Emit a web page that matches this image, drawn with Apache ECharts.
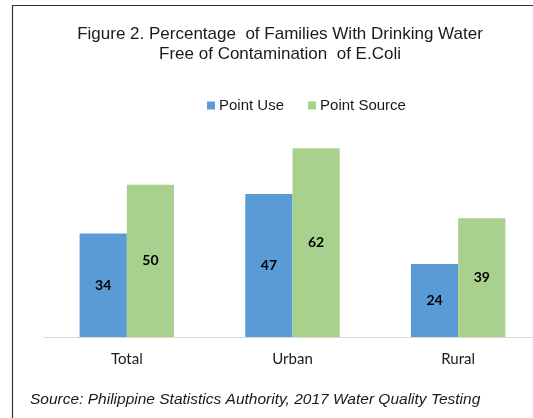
<!DOCTYPE html>
<html>
<head>
<meta charset="utf-8">
<script src="https://cdn.jsdelivr.net/npm/echarts@6/dist/echarts.min.js"></script>
<style>
  html, body { margin: 0; padding: 0; background: #fff; }
  #chart { width: 533px; height: 418px; }
</style>
</head>
<body>
<div id="chart"></div>
<script>
// Datos del gráfico
const categories = ['Total', 'Urban', 'Rural'];
const pointUse = [34, 47, 24];
const pointSource = [50, 62, 39];

const chart = echarts.init(document.getElementById('chart'));

const labelStyle = {
  show: true,
  position: 'inside',
  color: '#000',
  fontWeight: 'bold',
  fontSize: 14,
  fontFamily: 'Lato'
};

const option = {
  animation: false,
  title: [
    {
      text: 'Figure 2. Percentage  of Families With Drinking Water\nFree of Contamination  of E.Coli',
      left: 275,
      top: 19,
      textAlign: 'center',
      textStyle: {
        fontFamily: 'Liberation Sans',
        fontWeight: 'normal',
        fontSize: 17,
        lineHeight: 20,
        color: '#1a1a1a'
      }
    },
    {
      text: 'Source: Philippine Statistics Authority, 2017 Water Quality Testing',
      left: 25,
      top: 387,
      textStyle: {
        fontFamily: 'Liberation Sans',
        fontStyle: 'italic',
        fontWeight: 'normal',
        fontSize: 15.5,
        color: '#1a1a1a'
      }
    }
  ],
  legend: {
    left: 202,
    top: 93,
    itemWidth: 8,
    itemHeight: 8,
    itemGap: 24,
    icon: 'rect',
    textStyle: {
      fontFamily: 'Liberation Sans',
      fontSize: 15,
      color: '#1a1a1a',
      padding: [0, 0, 0, -1]
    },
    data: ['Point Use', 'Point Source']
  },
  graphic: [
    {
      type: 'rect',
      shape: { x: 12.5, y: 5.5, width: 600, height: 500 },
      style: { fill: 'none', stroke: '#333', lineWidth: 1.2 },
      silent: true
    }
  ],
  grid: {
    left: 44,
    top: 124,
    width: 497,
    bottom: 81,
    outerBoundsMode: 'none'
  },
  xAxis: {
    type: 'category',
    data: categories,
    axisLine: { lineStyle: { color: '#d9d9d9', width: 1 } },
    axisTick: { show: false },
    axisLabel: {
      margin: 15,
      fontFamily: 'Lato',
      fontSize: 15,
      color: '#1a1a1a'
    }
  },
  yAxis: {
    type: 'value',
    min: 0,
    max: 70,
    show: false
  },
  series: [
    {
      name: 'Point Use',
      type: 'bar',
      data: pointUse,
      barGap: '0%',
      barCategoryGap: '43%',
      itemStyle: { color: '#5b9bd5' },
      label: labelStyle
    },
    {
      name: 'Point Source',
      type: 'bar',
      data: pointSource,
      itemStyle: { color: '#a9d18e' },
      label: labelStyle
    }
  ]
};

chart.setOption(option);
</script>
</body>
</html>
